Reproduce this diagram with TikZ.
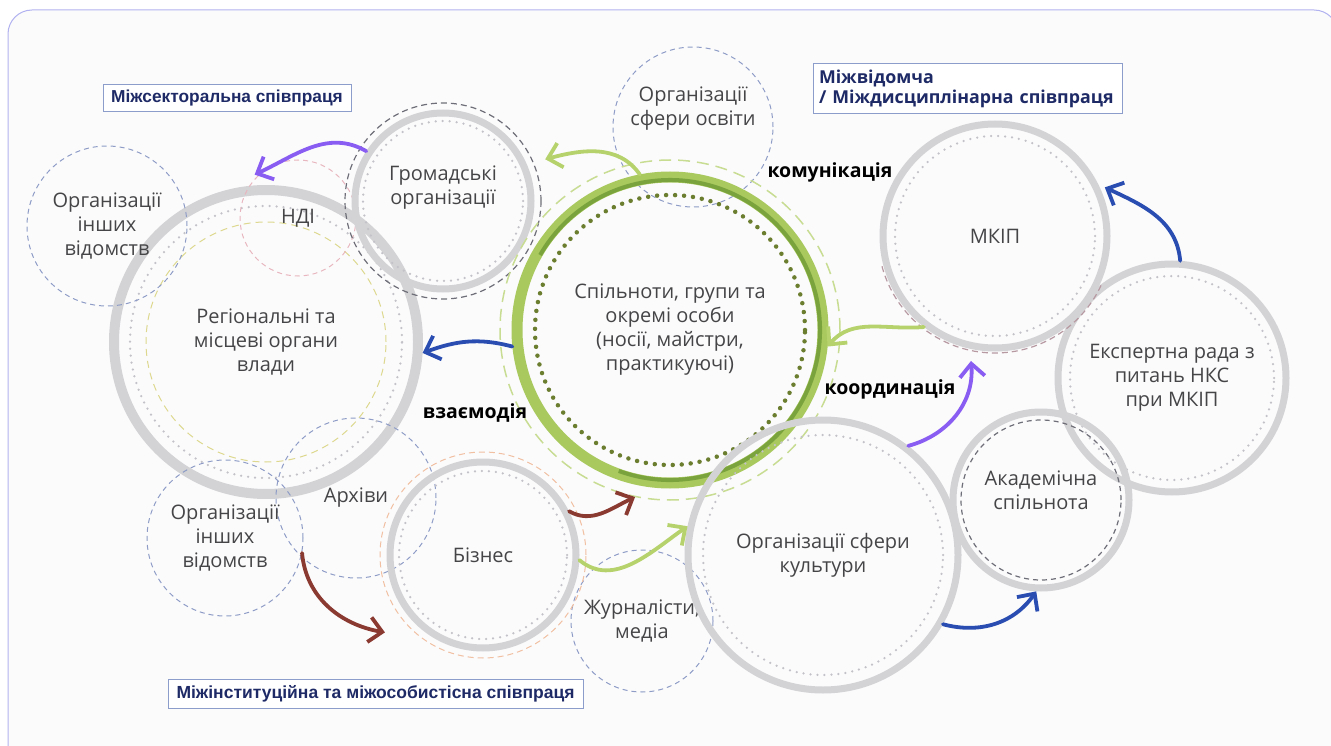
\documentclass[tikz,border=0pt]{standalone}
\usepackage{fontspec}
\setmainfont{Open Sans}
\newfontfamily\tagfont{Liberation Sans}
\usetikzlibrary{arrows.meta, positioning}

\definecolor{ringgray}{HTML}{D3D3D5}
\definecolor{dotgray}{HTML}{C2C2C8}
\definecolor{dashblue}{HTML}{8E9CC6}
\definecolor{dashgray}{HTML}{6E6E78}
\definecolor{leafgreen}{HTML}{A9C95E}
\definecolor{deepgreen}{HTML}{7AA33E}
\definecolor{dotgreen}{HTML}{6B7D2E}
\definecolor{palegreen}{HTML}{C8DC92}
\definecolor{pinkdash}{HTML}{E8B6BE}
\definecolor{yellowdash}{HTML}{DDD88E}
\definecolor{peachdash}{HTML}{F1C0A2}
\definecolor{arrviolet}{HTML}{8A5DF2}
\definecolor{arrblue}{HTML}{2A4DB2}
\definecolor{arrbrown}{HTML}{8B3A31}
\definecolor{arrgreen}{HTML}{B6D26C}
\definecolor{tagnavy}{HTML}{1E2A66}
\definecolor{tagline}{HTML}{8D9DCB}
\definecolor{framelav}{HTML}{B2B2F0}
\definecolor{textgray}{HTML}{454547}
\definecolor{paper}{HTML}{FBFBFC}

\newcommand{\circfont}{\fontsize{20}{24}\selectfont}

\tikzset{
  txt/.style={align=center, text=textgray, font=\circfont},
  ring/.style={circle, draw=ringgray, line width=7pt, inner sep=0pt, txt},
  dashc/.style={circle, draw=dashblue, line width=1pt, dash pattern=on 5pt off 4pt, inner sep=0pt, txt},
  dotring/.style={dotgray, line width=2.5pt, dash pattern=on 0pt off 7pt, line cap=round},
  arr/.style={line width=3.8pt, line cap=round, -{Straight Barb[length=13pt, width=25pt]}},
  keyword/.style={font=\bfseries\fontsize{19.5}{22}\selectfont, text=black},
  tag/.style={draw=tagline, line width=1pt, fill=white, text=tagnavy, inner sep=0pt}
}

\begin{document}
\begin{tikzpicture}[x=1pt, y=1pt]
\useasboundingbox (0,0) rectangle (1331,-746);
\fill[white] (0,0) rectangle (1331,-746);
\draw[framelav, line width=1pt, fill=paper, rounded corners=24pt] (8,-770) -- (8,-10) -- (1338,-10) -- (1338,-770);

% regional authorities
\draw[yellowdash, line width=1pt, dash pattern=on 7pt off 5pt] (266,-342) circle[radius=120pt];
\draw[dotring] (266,-342) circle[radius=136pt];
\node[ring, line width=10pt, minimum size=304pt] (reg) at (266,-342) {Регіональні та\\місцеві органи\\влади};

% dashed circles
\node[dashc, minimum size=160pt] (oth1) at (107,-226) {Організації\\інших\\відомств};
\node[dashc, draw=pinkdash, minimum size=116pt] (ndi) at (298,-218) {НДІ};
\node[dashc, minimum size=160pt, label={[txt, yshift=18pt]center:Організації\\сфери освіти}] (osv) at (693,-127) {};
\node[dashc, minimum size=160pt] (arch) at (356,-498) {Архіви};
\node[dashc, minimum size=156pt] (oth2) at (225,-538) {Організації\\інших\\відомств};
\node[dashc, minimum size=142pt] (media) at (642,-621) {Журналісти,\\медіа};

% civic organisations
\draw[dashgray, line width=1.2pt, dash pattern=on 6pt off 4pt] (443,-201) circle[radius=98pt];
\draw[dotring] (443,-201) circle[radius=80pt];
\node[ring, minimum size=176pt, label={[txt, yshift=13pt]center:Громадські\\організації}] (gro) at (443,-201) {};

% business
\draw[peachdash, line width=1pt, dash pattern=on 6pt off 4pt] (483,-555) circle[radius=103pt];
\draw[dotring] (483,-555) circle[radius=84pt];
\node[ring, minimum size=186pt] (biz) at (483,-555) {Бізнес};

% ministry and council
\draw[dotring] (1172,-378) circle[radius=102pt];
\node[ring, minimum size=228pt] (exp) at (1172,-378) {Експертна рада з\\питань НКС\\при МКІП};
\draw[pinkdash!60!dashgray, line width=1.2pt, dash pattern=on 6pt off 4pt] (995,-236) ++(195:117pt) arc[start angle=195, end angle=335, radius=117pt];
\draw[dotring] (995,-236) circle[radius=100pt];
\node[ring, minimum size=224pt] (mkip) at (995,-236) {МКІП};

% academic community
\draw[dashgray, line width=1.2pt, dash pattern=on 5pt off 4pt] (1041,-500) circle[radius=80pt];
\node[ring, minimum size=176pt, label={[txt, yshift=10pt]center:Академічна\\спільнота}] (acad) at (1041,-500) {};

% communities in the middle
\draw[palegreen, line width=1.5pt, dash pattern=on 12pt off 7pt] (670,-330) circle[radius=170pt];
\draw[dotgreen, line width=4.5pt, dash pattern=on 0pt off 9pt, line cap=round] (670,-330) circle[radius=135pt];
\node[circle, draw=leafgreen, line width=11pt, inner sep=0pt, minimum size=306pt, txt] (main) at (670,-330) {Спільноти, групи та\\окремі особи\\(носії, майстри,\\практикуючі)};
\draw[deepgreen, line width=4pt] (670,-330) ++(-110:150pt) arc[start angle=-110, end angle=150, radius=150pt];

% culture
\draw[dotring] (823,-555) circle[radius=120pt];
\node[ring, minimum size=270pt] (cult) at (823,-555) {Організації сфери\\культури};

% arrows
\draw[arr, arrviolet] (gro.147) to[out=150, in=25] ([shift={(-2pt,2pt)}]ndi.135);
\draw[arr, arrgreen] (main.101) to[out=125, in=15] ([shift={(18pt,6pt)}]gro.23);
\draw[arr, arrblue] (main.186) to[out=165, in=20] (reg.-4);
\draw[arr, arrgreen] (mkip.232) to[out=185, in=50] (main.-6);
\draw[arr, arrviolet] (cult.52) to[out=15, in=-85] ([shift={(0pt,-12pt)}]mkip.258);
\draw[arr, arrblue] (exp.86) to[out=95, in=-25] ([shift={(6pt,-2pt)}]mkip.26);
\draw[arr, arrblue] (cult.-30) to[out=-15, in=235] (acad.267);
\draw[arr, arrbrown] (oth2.-11) to[out=-85, in=170] ([shift={(-22pt,-18pt)}]biz.218);
\draw[arr, arrbrown] (biz.27) to[out=-30, in=205] ([shift={(-2pt,-12pt)}]main.258);
\draw[arr, arrgreen] (biz.-3) to[out=-40, in=215] (cult.168);

% keywords
\node[keyword] (comm) at (830,-172) {комунікація};
\node[keyword] (coord) at (890,-389) {координація};
\node[keyword] (inter) at (475,-413) {взаємодія};

% tags
\node[tag, minimum width=248pt, minimum height=27pt, font=\tagfont\bfseries\fontsize{17.3}{19}\selectfont] (secttag) at (227,-98.5) {Міжсекторальна співпраця};
\node[tag, minimum width=415pt, minimum height=29pt, font=\tagfont\bfseries\fontsize{17.5}{19}\selectfont] (insttag) at (375.5,-693.5) {Міжінституційна та міжособистісна співпраця};
\node[tag, text width=297pt, inner xsep=6pt, minimum height=50pt, align=left, font=\bfseries\fontsize{17.8}{20}\selectfont] (depttag) at (967.5,-89) {Міжвідомча\\/ Міждисциплінарна співпраця};
\end{tikzpicture}
\end{document}
